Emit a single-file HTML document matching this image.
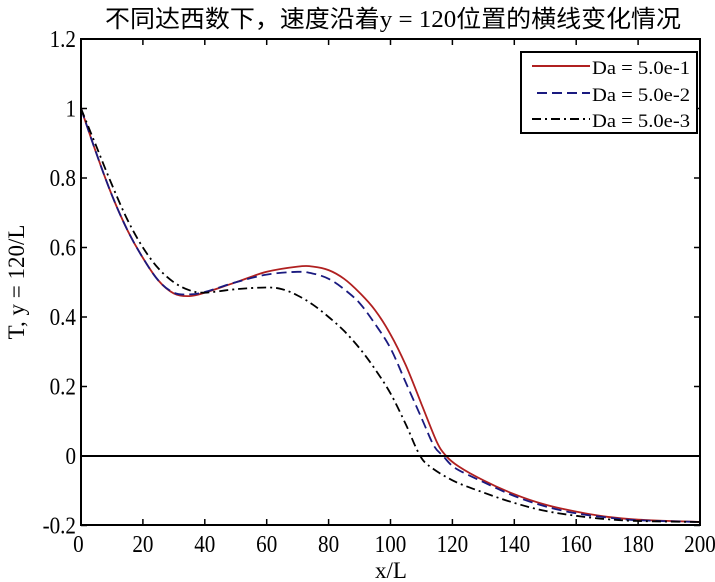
<!DOCTYPE html>
<html><head><meta charset="utf-8"><style>
html,body{margin:0;padding:0;background:#fff;}
svg{display:block;font-family:"Liberation Serif","Noto Serif CJK SC",serif;}
</style></head><body>
<svg id="s" width="715" height="582" xmlns="http://www.w3.org/2000/svg">
<text x="105" y="27" font-size="24" textLength="576" lengthAdjust="spacingAndGlyphs" font-family="Liberation Serif, Noto Sans CJK SC, sans-serif">不同达西数下，速度沿着y = 120位置的横线变化情况</text>
<g id="g"></g>
<rect x="81" y="39" width="619" height="486" fill="none" stroke="#000" stroke-width="2"/>
<line x1="81" y1="456" x2="700" y2="456" stroke="#000" stroke-width="2"/>
<text transform="translate(24,282) rotate(-90)" font-size="23" text-anchor="middle">T, y = 120/L</text>
<text x="391" y="578" font-size="23" text-anchor="middle">x/L</text>
<rect x="521" y="52" width="176" height="81" fill="#fff" stroke="#000" stroke-width="2"/>
<line x1="532" y1="66" x2="590" y2="66" stroke="#b02020" stroke-width="2"/>
<line x1="537" y1="93" x2="590" y2="93" stroke="#1a1a80" stroke-width="2" stroke-dasharray="10,5"/>
<line x1="532" y1="119" x2="590" y2="119" stroke="#000" stroke-width="2" stroke-dasharray="9,4,2,4"/>
<text x="592" y="74" font-size="19" textLength="98" lengthAdjust="spacingAndGlyphs">Da = 5.0e-1</text>
<text x="592" y="101" font-size="19" textLength="98" lengthAdjust="spacingAndGlyphs">Da = 5.0e-2</text>
<text x="592" y="127" font-size="19" textLength="98" lengthAdjust="spacingAndGlyphs">Da = 5.0e-3</text>
</svg>
<script>
var g=document.getElementById('g'),ns='http://www.w3.org/2000/svg';
function X(x){return 81+x*619/200;}function Y(t){return 456-t*347.5;}
function el(n,a){var e=document.createElementNS(ns,n);for(var k in a)e.setAttribute(k,a[k]);g.appendChild(e);return e;}
for(var i=0;i<=10;i++){var x=X(i*20);
 el('line',{x1:x,y1:525,x2:x,y2:519,stroke:'#000','stroke-width':1.5});
 el('line',{x1:x,y1:39,x2:x,y2:45,stroke:'#000','stroke-width':1.5});
 var t=el('text',{x:i==0?x-3:x,y:552,'font-size':24,'text-anchor':'middle',transform:'translate('+x+',0) scale(0.88,1) translate('+(-x)+',0)'});t.textContent=i*20;}
var yl=['-0.2','0','0.2','0.4','0.6','0.8','1','1.2'];
for(var j=0;j<8;j++){var v=-0.2+j*0.2,y=Y(v);
 el('line',{x1:81,y1:y,x2:87,y2:y,stroke:'#000','stroke-width':1.5});
 el('line',{x1:700,y1:y,x2:694,y2:y,stroke:'#000','stroke-width':1.5});
 var t=el('text',{x:76,y:y+8,'font-size':24,'text-anchor':'end',transform:'translate(76,0) scale(0.88,1) translate(-76,0)'});t.textContent=yl[j];}
function P(d,c,da){var s='M'+X(d[0][0]).toFixed(1)+','+Y(d[0][1]).toFixed(1);
 for(var i=0;i<d.length-1;i++){var p0=d[Math.max(i-1,0)],p1=d[i],p2=d[i+1],p3=d[Math.min(i+2,d.length-1)];
  var c1x=X(p1[0])+(X(p2[0])-X(p0[0]))/6,c1y=Y(p1[1])+(Y(p2[1])-Y(p0[1]))/6,c2x=X(p2[0])-(X(p3[0])-X(p1[0]))/6,c2y=Y(p2[1])-(Y(p3[1])-Y(p1[1]))/6;
  s+='C'+c1x.toFixed(1)+','+c1y.toFixed(1)+' '+c2x.toFixed(1)+','+c2y.toFixed(1)+' '+X(p2[0]).toFixed(1)+','+Y(p2[1]).toFixed(1);}
 var a={d:s,fill:'none',stroke:c,'stroke-width':1.8};if(da)a['stroke-dasharray']=da;el('path',a);}
P([[0,1],[5,0.87],[10,0.75],[15,0.65],[20,0.57],[25,0.505],[30,0.468],[35,0.46],[40,0.47],[50,0.5],[60,0.53],[70,0.545],[75,0.545],[80,0.535],[85,0.51],[90,0.47],[95,0.42],[100,0.35],[105,0.26],[110,0.15],[115,0.04],[118,0],[122,-0.03],[130,-0.07],[140,-0.11],[150,-0.14],[160,-0.16],[170,-0.175],[180,-0.183],[200,-0.19]],'#b02020');
P([[0,1],[5,0.87],[10,0.75],[15,0.65],[20,0.57],[25,0.505],[30,0.47],[35,0.465],[40,0.472],[50,0.5],[60,0.522],[70,0.53],[75,0.525],[80,0.51],[85,0.48],[90,0.44],[95,0.38],[100,0.31],[105,0.21],[110,0.11],[114,0.03],[117,0],[121,-0.035],[130,-0.075],[140,-0.115],[150,-0.145],[160,-0.165],[170,-0.177],[180,-0.185],[200,-0.19]],'#1a1a80','10,5');
P([[0,1],[5,0.89],[10,0.78],[15,0.68],[20,0.6],[25,0.54],[30,0.5],[35,0.477],[40,0.47],[50,0.48],[60,0.485],[65,0.48],[70,0.462],[75,0.435],[80,0.4],[85,0.36],[90,0.31],[95,0.25],[100,0.18],[105,0.09],[109,0.01],[112,-0.025],[120,-0.07],[130,-0.105],[140,-0.135],[150,-0.158],[160,-0.172],[170,-0.182],[180,-0.187],[200,-0.19]],'#000','9,4,2,4');
</script>
</body></html>
